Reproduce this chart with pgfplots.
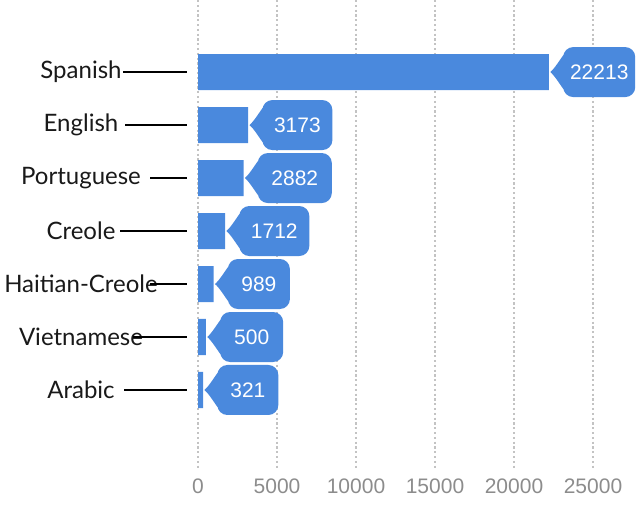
\documentclass[border=0pt]{standalone}
\usepackage{pgfplots}
\pgfplotsset{compat=1.18}
\usepackage{pgfplotstable}
\usepackage{fontspec}
\setmainfont{Lato}
\newfontfamily\arial{Liberation Sans}
\definecolor{barblue}{RGB}{74,137,221}
\definecolor{tickgray}{RGB}{140,140,140}
\definecolor{gridgray}{RGB}{195,195,195}
\pgfdeclareplotmark{callouttip}{%
  \pgfpathmoveto{\pgfpoint{1pt}{0pt}}%
  \pgfpathcurveto{\pgfpoint{4.5pt}{3pt}}{\pgfpoint{8pt}{9pt}}{\pgfpoint{11pt}{13pt}}%
  \pgfpathlineto{\pgfpoint{15pt}{13pt}}%
  \pgfpathlineto{\pgfpoint{15pt}{-13pt}}%
  \pgfpathlineto{\pgfpoint{11pt}{-13pt}}%
  \pgfpathcurveto{\pgfpoint{8pt}{-9pt}}{\pgfpoint{4.5pt}{-3pt}}{\pgfpoint{1pt}{0pt}}%
  \pgfpathclose
  \pgfusepathqfill}
\pgfplotstableread{
y x w
0 22213 72
1 3173 70
2 2882 74
3 1712 70
4 989 62
5 500 63
6 321 61
}\data
\begin{document}
\begin{tikzpicture}[x=0.75pt,y=0.75pt]
\begin{axis}[
  at={(0,0)}, anchor=south west,
  width=478.5pt, height=352.5pt, scale only axis,
  xmin=-12532, xmax=27848,
  ymin=-1.36, ymax=7.51, y dir=reverse,
  axis line style={draw=none},
  major tick length=0pt,
  xtick={0,5000,10000,15000,20000,25000},
  ytick={0,1,2,3,4,5,6},
  yticklabels={Spanish,English,Portuguese,Creole,Haitian-Creole,Vietnamese,Arabic},
  yticklabel style={anchor=center, font=\fontsize{18}{20}\selectfont, text=black!90, xshift=60.75pt},
  xticklabel style={font=\arial\fontsize{15.75}{18}\selectfont, text=tickgray, yshift=-3pt},
  /pgf/number format/assume math mode=true,
  /pgf/number format/1000 sep={},
  scaled ticks=false,
  xmajorgrids, ymajorgrids=false,
  major grid style={gridgray, line width=0.9pt, dash pattern=on 1.6pt off 2pt},
  clip=false,
]
\addplot[xbar, bar width=0.68, fill=barblue, draw=none] table[x=x,y=y] {\data};
\addplot[only marks, mark=callouttip, mark options={fill=barblue, draw=none},
  point meta=x,
  nodes near coords={\pgfmathprintnumber[1000 sep={}]{\pgfplotspointmeta}},
  visualization depends on={\thisrow{w} \as \bw},
  every node near coord/.append style={
    anchor=west, xshift=10.5pt,
    fill=barblue, text=white, font=\arial\fontsize{15.75}{18}\selectfont,
    rounded corners=7.5pt,
    inner xsep=0pt, inner ysep=0pt,
    minimum width={\bw*0.75pt}, minimum height=37.5pt,
  },
] table[x=x,y=y] {\data};
\addplot[black, line width=2.1pt] coordinates {(-4747,0) (-696,0)};
\addplot[black, line width=2.1pt] coordinates {(-4620,1) (-696,1)};
\addplot[black, line width=2.1pt] coordinates {(-3038,2) (-696,2)};
\addplot[black, line width=2.1pt] coordinates {(-4937,3) (-696,3)};
\addplot[black, line width=2.1pt] coordinates {(-3038,4) (-696,4)};
\addplot[black, line width=2.1pt] coordinates {(-4114,5) (-696,5)};
\addplot[black, line width=2.1pt] coordinates {(-4684,6) (-696,6)};
\end{axis}
\pgfresetboundingbox
\path[use as bounding box] (0,-39) rectangle (638,470);
\end{tikzpicture}
\end{document}
